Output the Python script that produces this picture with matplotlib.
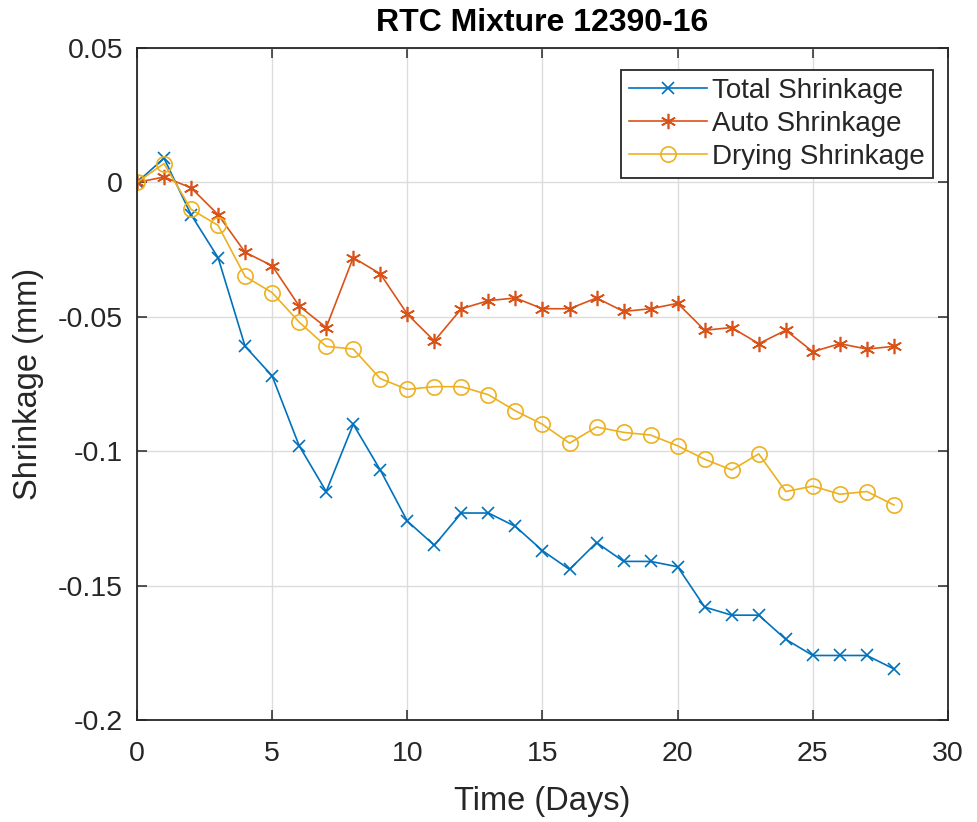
import matplotlib
matplotlib.use("Agg")
import matplotlib.pyplot as plt

plt.rcParams['font.family'] = ['Liberation Sans', 'DejaVu Sans']

days = list(range(29))

total_shrinkage = [0, 0.009, -0.012, -0.028, -0.061, -0.072, -0.098, -0.115, -0.090,
                   -0.107, -0.126, -0.135, -0.123, -0.123, -0.128, -0.137, -0.144,
                   -0.134, -0.141, -0.141, -0.143, -0.158, -0.161, -0.161, -0.170,
                   -0.176, -0.176, -0.176, -0.181]
auto_shrinkage = [0, 0.002, -0.002, -0.012, -0.026, -0.031, -0.046, -0.054, -0.028,
                  -0.034, -0.049, -0.059, -0.047, -0.044, -0.043, -0.047, -0.047,
                  -0.043, -0.048, -0.047, -0.045, -0.055, -0.054, -0.060, -0.055,
                  -0.063, -0.060, -0.062, -0.061]
drying_shrinkage = [0, 0.007, -0.010, -0.016, -0.035, -0.041, -0.052, -0.061, -0.062,
                    -0.073, -0.077, -0.076, -0.076, -0.079, -0.085, -0.090, -0.097,
                    -0.091, -0.093, -0.094, -0.098, -0.103, -0.107, -0.101, -0.115,
                    -0.113, -0.116, -0.115, -0.120]

x_ticks = [0, 5, 10, 15, 20, 25, 30]
y_ticks = [0.05, 0, -0.05, -0.1, -0.15, -0.2]
y_tick_labels = ['0.05', '0', '-0.05', '-0.1', '-0.15', '-0.2']

# default MATLAB colour order
blue = '#0072BD'
orange = '#D95319'
yellow = '#EDB120'
axis_gray = '#262626'

fig = plt.figure(figsize=(9.77, 8.22), dpi=100)
ax = fig.add_axes([0.1402, 0.1241, 0.8301, 0.8175])

ax.plot(days, total_shrinkage, color=blue, lw=1.2, marker='x', ms=8, mew=1.2,
        label='Total Shrinkage')
ax.plot(days, auto_shrinkage, color=orange, lw=1.2, marker=(6, 2, 0), ms=11, mew=1.2,
        label='Auto Shrinkage')
ax.plot(days, drying_shrinkage, color=yellow, lw=1.2, marker='o', ms=11, mew=1.2,
        mfc='none', label='Drying Shrinkage')

ax.set_xlim(0, 30)
ax.set_ylim(-0.2, 0.05)
ax.set_xticks(x_ticks)
ax.set_xticklabels([str(t) for t in x_ticks])
ax.set_yticks(y_ticks)
ax.set_yticklabels(y_tick_labels)

ax.grid(True, color='#dcdcdc', lw=1.0)
ax.set_axisbelow(True)
for side in ax.spines.values():
    side.set_color(axis_gray)
    side.set_linewidth(1.3)
ax.tick_params(direction='in', length=7, width=1.1, color=axis_gray,
               top=True, right=True, labelsize=20.5, labelcolor=axis_gray)
ax.tick_params(axis='x', pad=15)
ax.tick_params(axis='y', pad=10)

ax.set_xlabel('Time (Days)', fontsize=23.5, color=axis_gray, labelpad=14)
ax.set_ylabel('Shrinkage (mm)', fontsize=23.5, color=axis_gray, labelpad=10)
ax.set_title('RTC Mixture 12390-16', fontsize=23, fontweight='bold', pad=12)

leg = ax.legend(loc='upper right', fontsize=20, fancybox=False, framealpha=1,
                edgecolor=axis_gray, borderpad=0.3, labelspacing=0.25,
                handlelength=2.8, handletextpad=0.2, borderaxespad=0.0,
                bbox_to_anchor=(0.982, 0.968))
leg.get_frame().set_linewidth(1.3)
for t in leg.get_texts():
    t.set_color(axis_gray)

fig.savefig('out.png', dpi=100)
